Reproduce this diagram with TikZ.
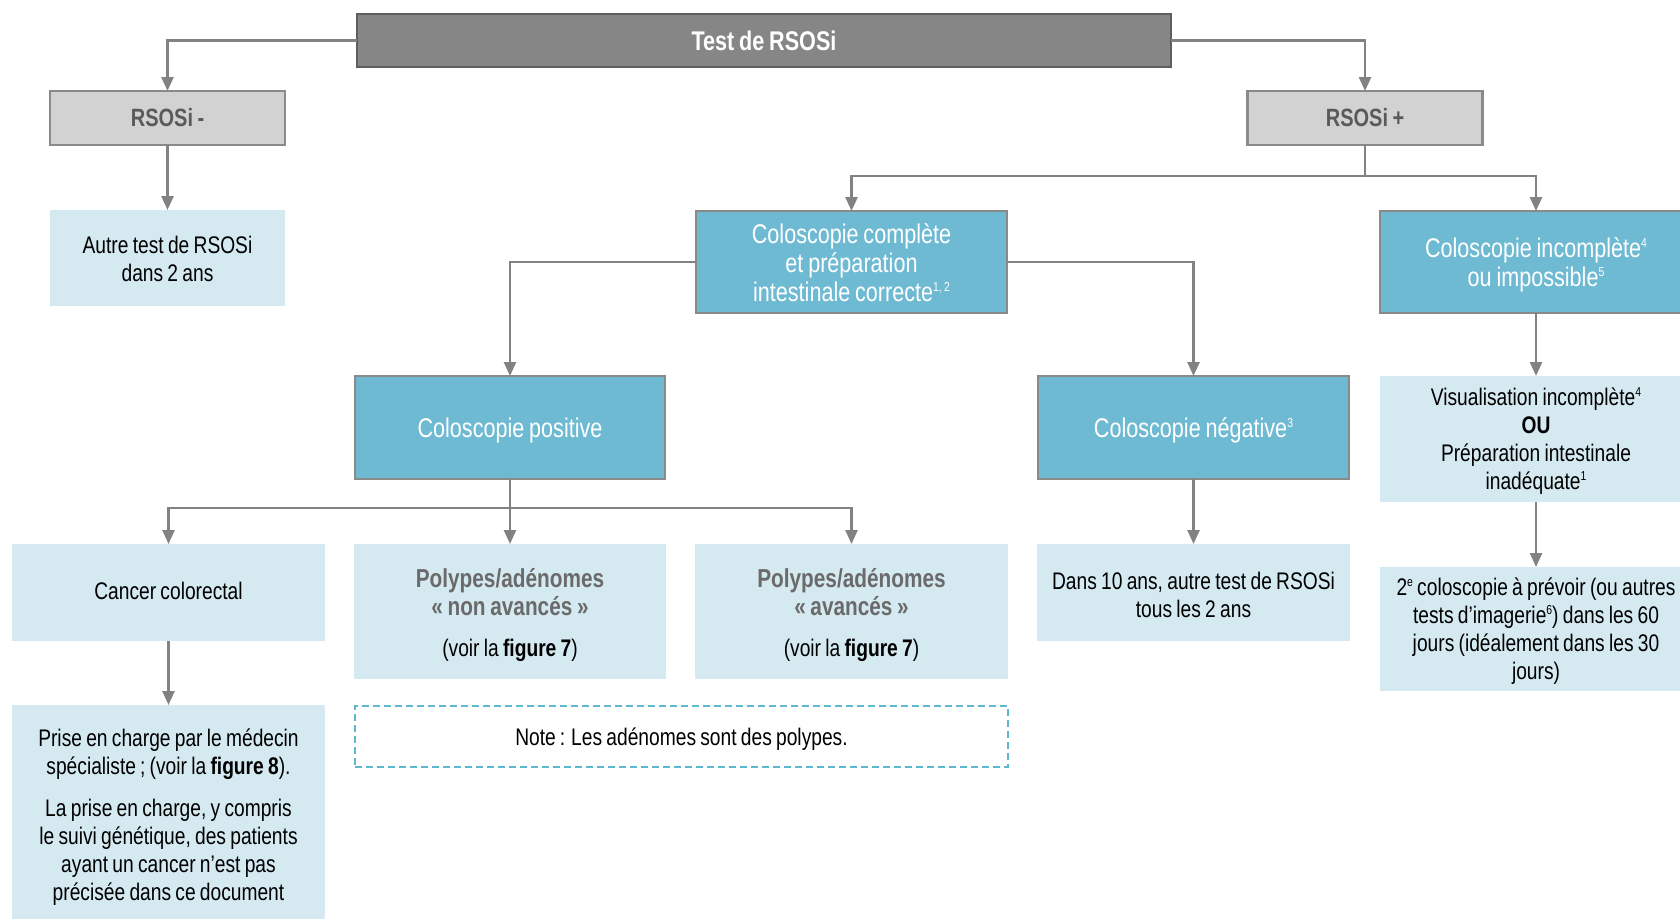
\documentclass[tikz,border=0pt]{standalone}
\usepackage{fontspec}
\setmainfont{Liberation Sans}[FakeStretch=0.8,WordSpace=0.8]
\usetikzlibrary{arrows.meta}

\definecolor{titlegray}{HTML}{868686}
\definecolor{titleedge}{HTML}{5E5E5E}
\definecolor{boxgray}{HTML}{D2D2D2}
\definecolor{edgegray}{HTML}{8A8A8A}
\definecolor{textgray}{HTML}{5A5A5A}
\definecolor{midblue}{HTML}{6FBAD3}
\definecolor{paleblue}{HTML}{D5E9F0}
\definecolor{linegray}{HTML}{828282}
\definecolor{polygray}{HTML}{6A6A6A}
\definecolor{dashblue}{HTML}{5DB8CF}

% small raised footnote numbers
\newcommand\supnum[1]{\raisebox{0.72ex}{\fontsize{13}{13}\selectfont #1}}
% centred block with natural word spaces and a set first-line height
\newcommand\blockstart[1]{\centering\spaceskip=0pt\xspaceskip=0pt\rule{0pt}{#1}}

\begin{document}
\begin{tikzpicture}[x=1pt,y=-1pt,
  base/.style={rectangle, inner sep=0pt, outer sep=0pt},
  firstline/.style={execute at begin node={\blockstart{#1}}},
  titlebox/.style={base, fill=titlegray, draw=titleedge, line width=2pt,
    text=white, font=\fontsize{27}{30}\selectfont\bfseries,
    minimum width=814, minimum height=53},
  graybox/.style={base, fill=boxgray, draw=edgegray, line width=2.5pt,
    text=textgray, font=\fontsize{25}{28}\selectfont\bfseries,
    minimum width=235, minimum height=54},
  bluebox/.style={base, fill=midblue, draw=edgegray, line width=2.5pt,
    text=white, font=\fontsize{27}{29}\selectfont, text width=305,
    minimum width=311, minimum height=102, firstline=0.95em},
  lightbox/.style={base, fill=paleblue, text=black,
    font=\fontsize{24}{28}\selectfont, text width=310, minimum width=313,
    firstline=0.95em},
  plaintext/.style={base, text=black, font=\fontsize{24}{28}\selectfont,
    text width=305, firstline=0.95em},
  notebox/.style={base, draw=dashblue, line width=2pt,
    dash pattern=on 7pt off 4pt, text=black,
    font=\fontsize{24}{28}\selectfont, minimum width=653, minimum height=61,
    execute at begin node={\spaceskip=0pt\rule{0pt}{0.95em}}},
  conn/.style={draw=linegray, line width=2.5pt},
  arr/.style={conn, -{Triangle[length=14pt,width=12pt]}}
]
\useasboundingbox (0,0) rectangle (1680,918);

% top level
\node[titlebox] (top) at (764,40.5) {Test de RSOSi};
\node[graybox] (rsminus) at (167.5,118) {RSOSi -};
\node[graybox] (rsplus) at (1365,118) {RSOSi +};

\node[lightbox, text width=225, minimum width=235, minimum height=96,
  firstline=0.78em] (autre) at (167.5,258)
  {Autre test de RSOSi\\dans 2 ans\rule[-4pt]{0pt}{0pt}};

% colonoscopy outcomes
\node[bluebox, firstline=0.8em] (colcomp) at (851.5,262)
  {Coloscopie complète\\et préparation\\intestinale correcte\supnum{1, 2}\rule[-4.5pt]{0pt}{0pt}};
\node[bluebox, minimum width=312] (colinc) at (1536,262)
  {Coloscopie incomplète\supnum{4}\\ou impossible\supnum{5}};

\node[bluebox, minimum width=310, minimum height=103] (colpos) at (510,427.5)
  {Coloscopie positive};
\node[bluebox, minimum height=103] (colneg) at (1193.5,427.5)
  {Coloscopie négative\supnum{3}};

\node[lightbox, minimum width=312, minimum height=126] (visu) at (1536,439)
  {Visualisation incomplète\supnum{4}\\\textbf{OU}\\Préparation intestinale\\inadéquate\supnum{1}};
\node[lightbox, minimum width=312, minimum height=124] (second) at (1536,629)
  {2\supnum{e} coloscopie à prévoir (ou autres\\tests d’imagerie\supnum{6}) dans les 60\\jours (idéalement dans les 30\\jours)};

% findings
\node[lightbox, minimum height=97, firstline=0pt] (cancer) at (168.5,592.5)
  {Cancer colorectal\rule[-9pt]{0pt}{0pt}};
\node[lightbox, minimum width=312, minimum height=135] (polnon) at (510,611.5)
  {\rule{0pt}{27pt}{\color{polygray}\bfseries\fontsize{26}{29}\selectfont Polypes/adénomes\\« non avancés »}\\[13pt](voir la \textbf{figure 7})};
\node[lightbox, minimum height=135] (polav) at (851.5,611.5)
  {\rule{0pt}{27pt}{\color{polygray}\bfseries\fontsize{26}{29}\selectfont Polypes/adénomes\\« avancés »}\\[13pt](voir la \textbf{figure 7})};
\node[lightbox, minimum height=97] (dix) at (1193.5,592.5)
  {Dans 10 ans, autre test de RSOSi\\tous les 2 ans};

% specialist care
\node[lightbox, minimum height=230, anchor=north] (prisebox) at (168.5,705) {};
\node[plaintext] (prise) at (168.5,815)
  {Prise en charge par le médecin\\spécialiste\,; (voir la \textbf{figure 8}).\\[14pt]La prise en charge, y compris\\le suivi génétique, des patients\\ayant un cancer n’est pas\\précisée dans ce document};

\node[notebox] (note) at (681.5,736.5) {Note\,: Les adénomes sont des polypes.};

% branch points
\coordinate (forkplus) at (1365,176);
\coordinate (forkpos) at (510,508);

% connectors
\draw[arr] (top.west) -| (rsminus.north);
\draw[arr] (top.east) -| (rsplus.north);
\draw[arr] (rsminus.south) -- (autre.north);

\draw[conn] (rsplus.south) -- (forkplus);
\draw[arr] (forkplus) -| (colcomp.north);
\draw[arr] (forkplus) -| (colinc.north);

\draw[arr] (colcomp.west) -| (colpos.north);
\draw[arr] (colcomp.east) -| (colneg.north);

\draw[arr] (colinc.south) -- (visu.north);
\draw[arr] (visu.south) -- (second.north);

\draw[conn] (colpos.south) -- (forkpos);
\draw[arr] (forkpos) -| (cancer.north);
\draw[arr] (forkpos) -- (polnon.north);
\draw[arr] (forkpos) -| (polav.north);

\draw[arr] (colneg.south) -- (dix.north);
\draw[arr] (cancer.south) -- (prisebox.north);
\end{tikzpicture}
\end{document}
